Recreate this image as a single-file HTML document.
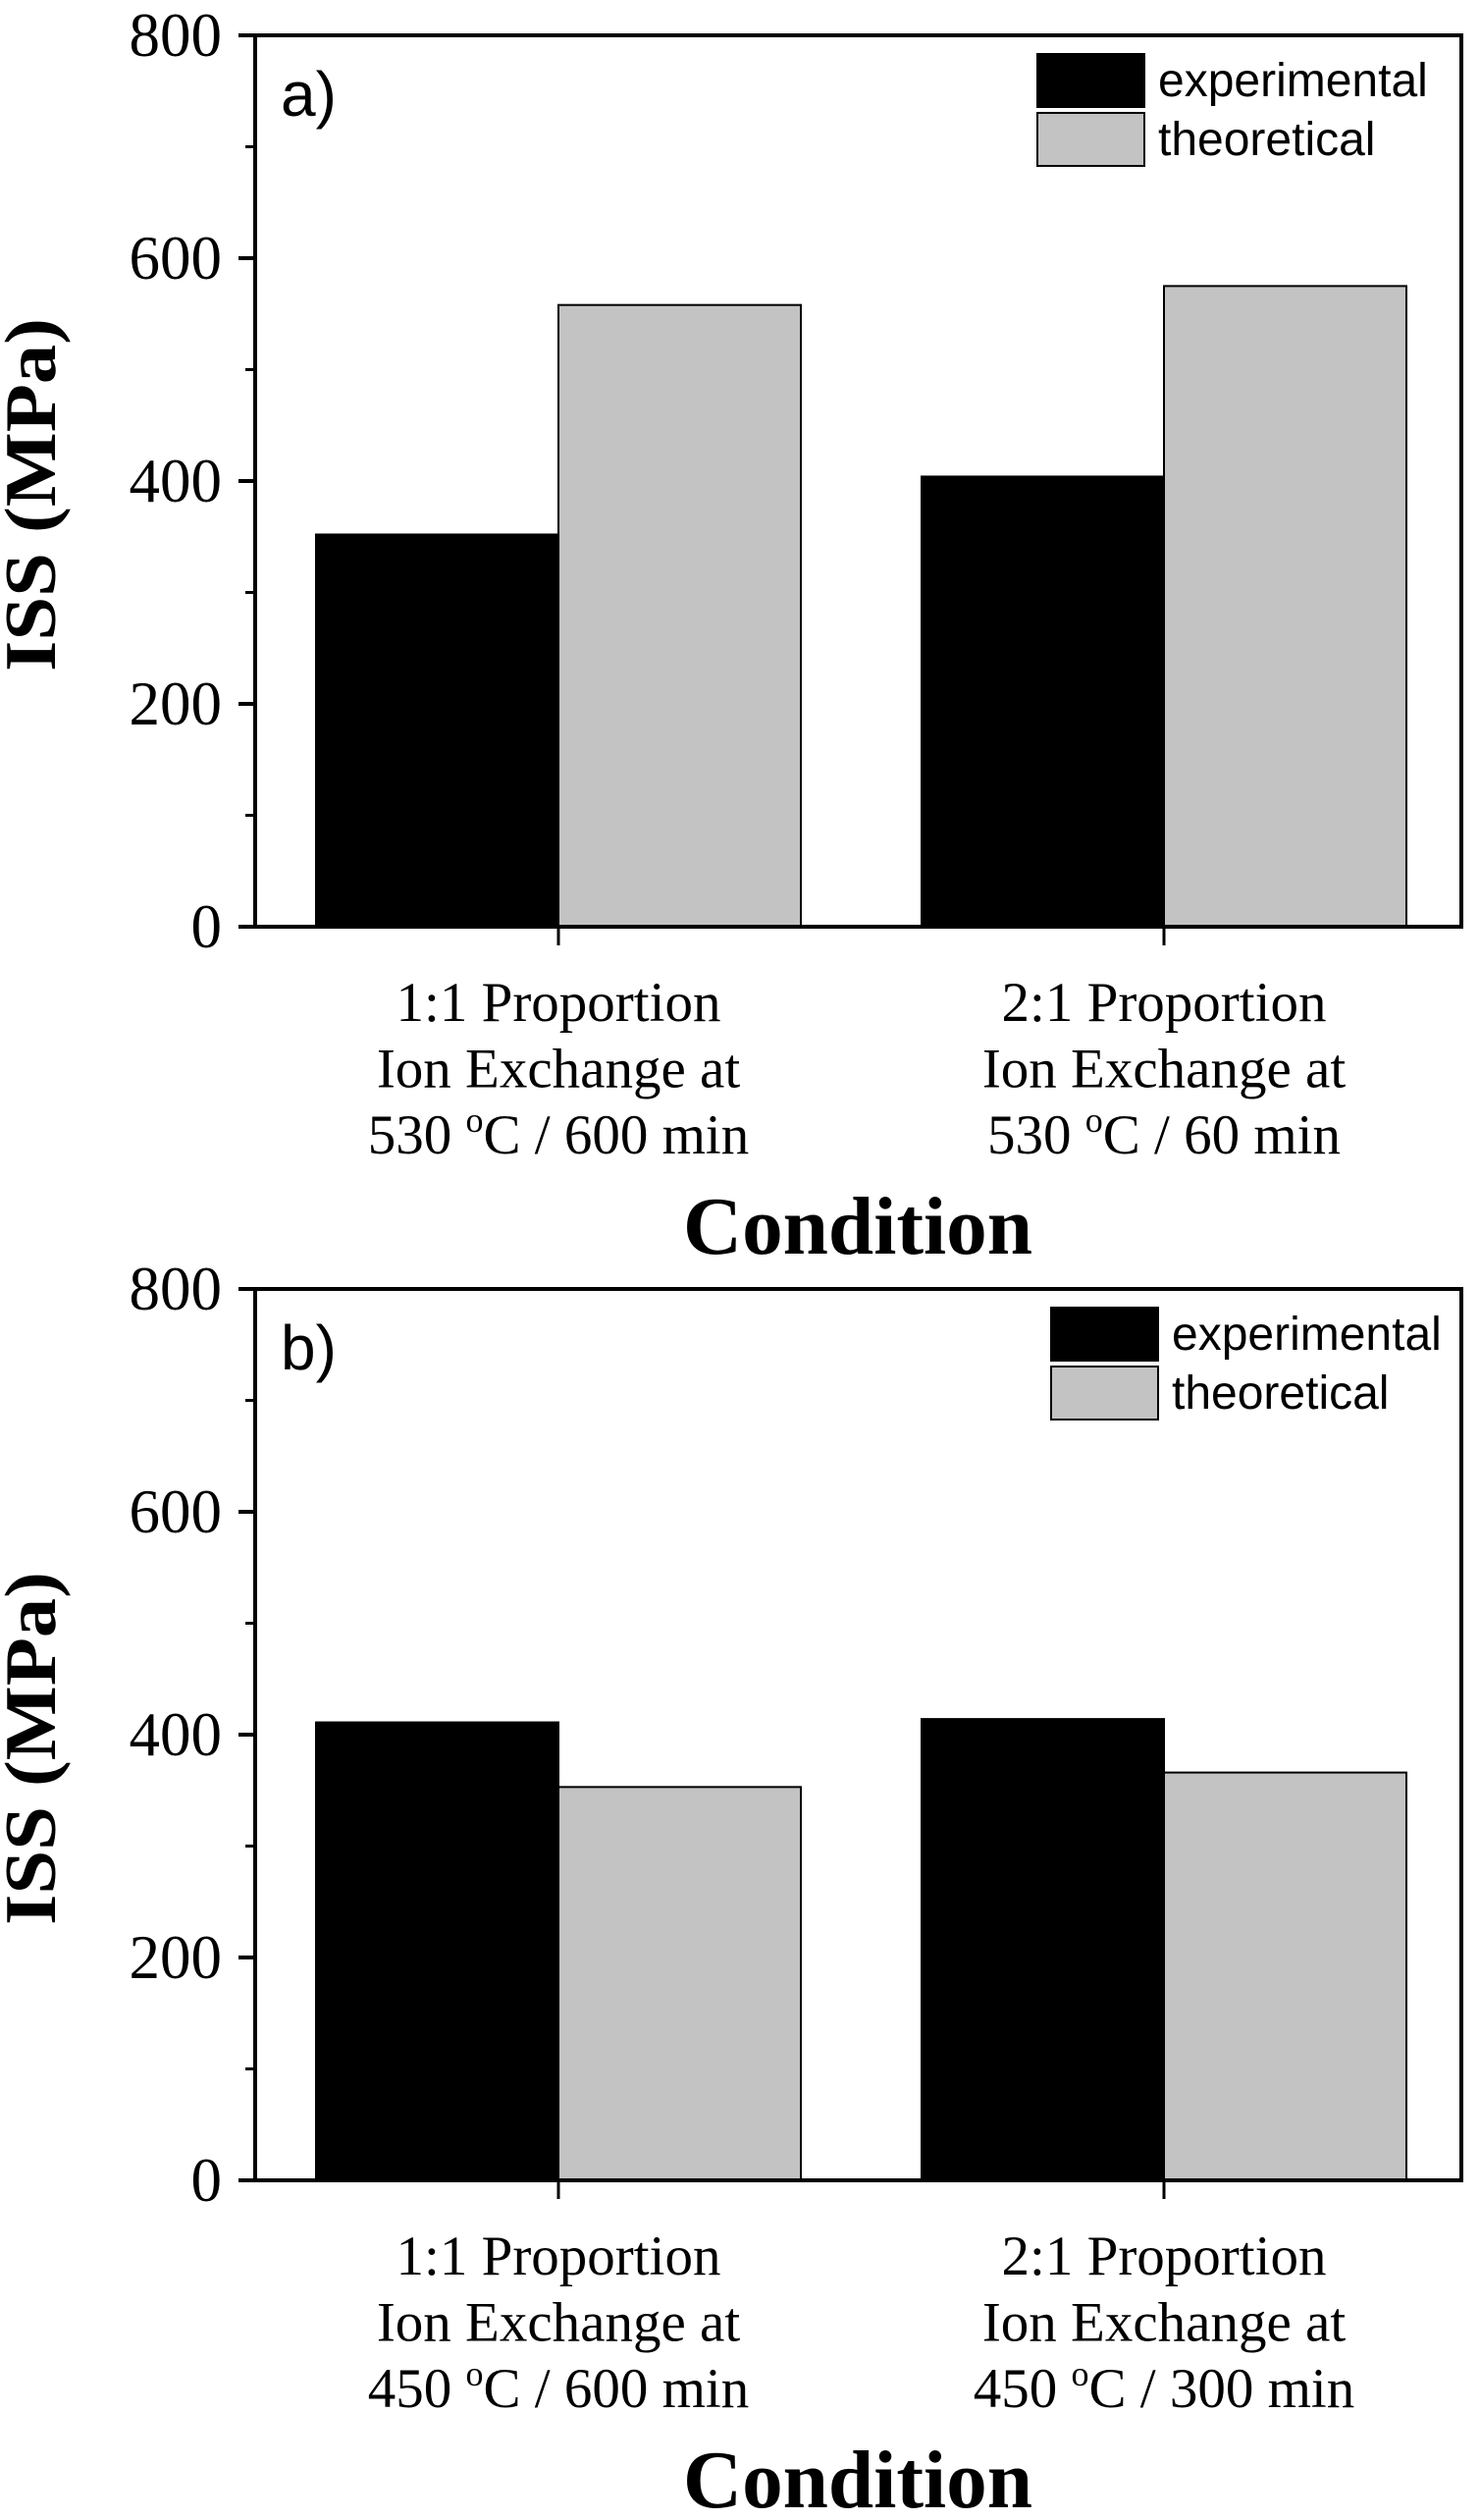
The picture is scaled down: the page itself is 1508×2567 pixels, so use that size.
<!DOCTYPE html>
<html><head><meta charset="utf-8"><style>
html,body{margin:0;padding:0;background:#fff;}
svg{display:block;}
.tick{font-family:"Liberation Serif",serif;font-size:63px;fill:#000;}
.cat{font-family:"Liberation Serif",serif;font-size:57px;fill:#000;}
.ttl{font-family:"Liberation Serif",serif;font-weight:bold;fill:#000;}
.leg{font-family:"Liberation Sans",sans-serif;font-size:48px;fill:#000;}
</style></head><body>
<svg id="fig" width="1508" height="2567" viewBox="0 0 1508 2567" xmlns="http://www.w3.org/2000/svg"></svg>
<script>
const categoriesA = [["1:1 Proportion","Ion Exchange at","530 \u00B0C / 600 min"],["2:1 Proportion","Ion Exchange at","530 \u00B0C / 60 min"]];
const categoriesB = [["1:1 Proportion","Ion Exchange at","450 \u00B0C / 600 min"],["2:1 Proportion","Ion Exchange at","450 \u00B0C / 300 min"]];
const experimentalA = [352, 404];
const theoreticalA = [558, 575];
const experimentalB = [411, 414];
const theoreticalB = [353, 366];
const yTicks = [0, 200, 400, 600, 800];
const yMinorTicks = [100, 300, 500, 700];
const seriesNames = ["experimental", "theoretical"];

const NS = "http://www.w3.org/2000/svg";
const svg = document.getElementById("fig");
function mk(tag, attrs, parent, text) {
  const e = document.createElementNS(NS, tag);
  for (const k in attrs) e.setAttribute(k, attrs[k]);
  if (text !== undefined) e.textContent = text;
  (parent || svg).appendChild(e);
  return e;
}

function panel(off, label, cats, exp, theo, legDx, id) {
  const g = mk("g", {transform: "translate(0," + off + ")"});
  
  
  const L = 260, R = 1489, T = 36, B = 944;
  const y = v => B - (v / 800) * (B - T);
  const cx = i => 569 + i * 617;
  const bw = 247;
  for (let i = 0; i < cats.length; i++) {
    const b1 = mk("rect", {x: cx(i) - bw, y: y(exp[i]), width: bw, height: B - y(exp[i]), fill: "#000", stroke: "#000", "stroke-width": 2}, g);
    
    
    const b2 = mk("rect", {x: cx(i), y: y(theo[i]), width: bw, height: B - y(theo[i]), fill: "#c3c3c3", stroke: "#000", "stroke-width": 2}, g);
    
    
  }
  const fr = mk("rect", {x: L, y: T, width: R - L, height: B - T, fill: "none", stroke: "#000", "stroke-width": 4}, g);
  
  
  yTicks.forEach(v => {
    const t = mk("line", {x1: 243, x2: L, y1: y(v), y2: y(v), stroke: "#000", "stroke-width": 4}, g);
    
    
    const tl = mk("text", {x: 226, y: y(v) + 21, "text-anchor": "end", class: "tick"}, g, String(v));
    
    
  });
  yMinorTicks.forEach(v => {
    const t = mk("line", {x1: 250, x2: L, y1: y(v), y2: y(v), stroke: "#000", "stroke-width": 3}, g);
    
    
  });
  for (let i = 0; i < cats.length; i++) {
    const t = mk("line", {x1: cx(i), x2: cx(i), y1: B, y2: B + 19, stroke: "#000", "stroke-width": 3}, g);
    
    
    const txt = mk("text", {x: cx(i), y: 1040, "text-anchor": "middle", class: "cat"}, g);
    
    
    cats[i].forEach((line, j) => {
      const ts = mk("tspan", {x: cx(i), y: 1040 + j * 67.5}, txt);
      if (line.indexOf("\u00B0C") >= 0) {
        const parts = line.split("\u00B0C");
        ts.appendChild(document.createTextNode(parts[0]));
        mk("tspan", {"font-size": "36", dy: "-22"}, ts, "o");
        mk("tspan", {dy: "22"}, ts, "C" + parts[1]);
      } else ts.textContent = line;
    });
  }
  const yt = mk("text", {x: 0, y: 0, transform: "translate(56,504) rotate(-90)", "text-anchor": "middle", class: "ttl", "font-size": 74, textLength: 360, lengthAdjust: "spacingAndGlyphs"}, g, "ISS (MPa)");
  
  
  const xt = mk("text", {x: 874, y: 1277, "text-anchor": "middle", class: "ttl", "font-size": 84, textLength: 356, lengthAdjust: "spacingAndGlyphs"}, g, "Condition");
  
  
  const pl = mk("text", {x: 286, y: 118, "font-family": "Liberation Sans, sans-serif", "font-size": 64}, g, label);
  
  
  const lg = mk("g", {transform: "translate(" + legDx + ",0)"}, g);
  
  
  const fills = ["#000", "#c3c3c3"];
  seriesNames.forEach((n, k) => {
    const sw = mk("rect", {x: 1057, y: 55 + k * 60, width: 109, height: 54, fill: fills[k], stroke: "#000", "stroke-width": 2}, lg);
    
    
    const lt = mk("text", {x: 1180, y: 98 + k * 60, class: "leg"}, lg, n);
    
    
  });
}
panel(0, "a)", categoriesA, experimentalA, theoreticalA, 0, "a");
panel(1277, "b)", categoriesB, experimentalB, theoreticalB, 14, "b");
</script>
</body></html>
